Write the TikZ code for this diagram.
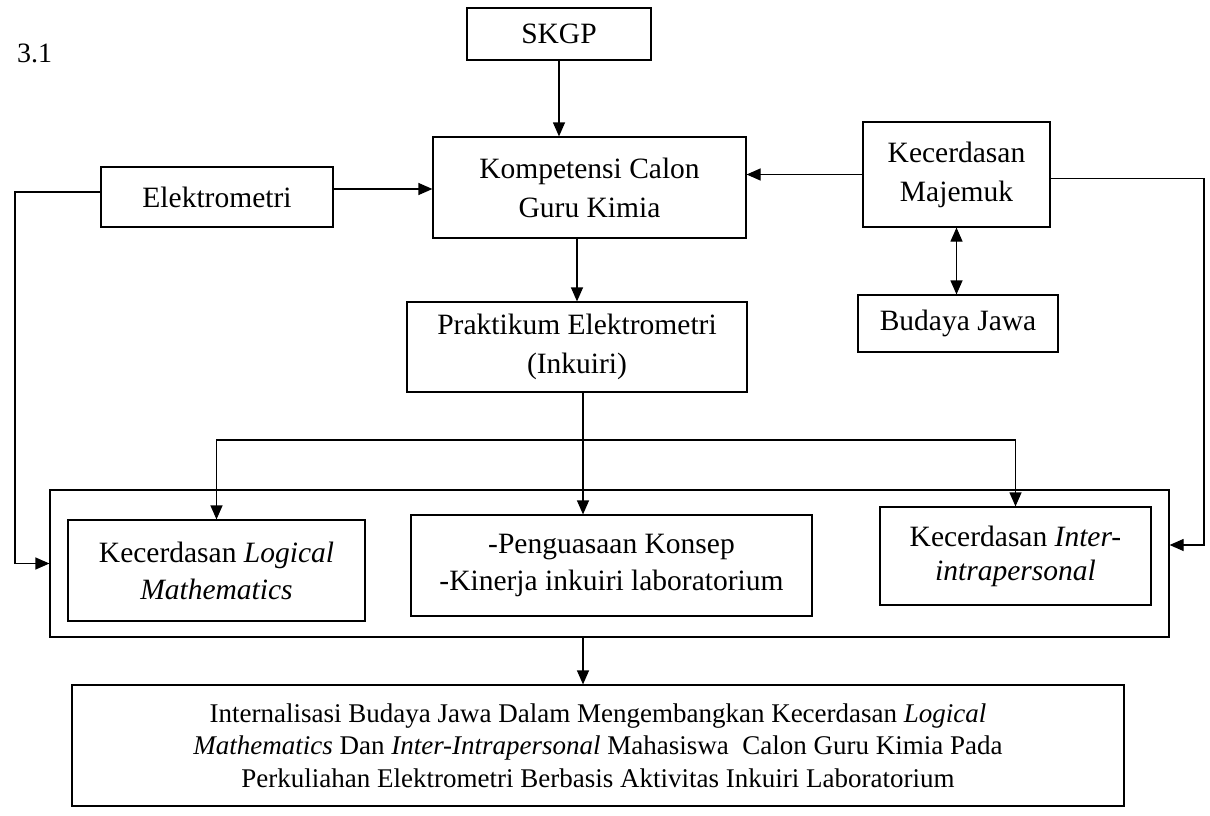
\documentclass[tikz,border=0pt]{standalone}
\usepackage{fontspec}
\setmainfont{Liberation Serif}
\usetikzlibrary{arrows.meta}
\tikzset{
  box/.style={draw, line width=1.2pt, inner sep=0pt, align=center, font=\fontsize{29.5}{39}\selectfont},
  arr/.style={line width=1.2pt, -{Triangle[length=14pt,width=12pt]}},
  darr/.style={line width=1.2pt, {Triangle[length=14pt,width=12pt]}-{Triangle[length=14pt,width=12pt]}},
  ln/.style={line width=1.2pt}
}
\begin{document}
\begin{tikzpicture}[x=1pt,y=-1pt]
\useasboundingbox (0,0) rectangle (1210,816);
% label
\node[anchor=base west, inner sep=0pt, font=\fontsize{28}{34}\selectfont] (num) at (17,63) {3.1};
% top boxes
\node[box, minimum width=184pt, minimum height=52pt] (skgp) at (559,34) {SKGP};
\node[box, minimum width=313pt, minimum height=101pt] (komp) at (589.5,187.5) {Kompetensi Calon\\Guru Kimia};
\node[box, minimum width=232pt, minimum height=60pt] (elek) at (217,197) {Elektrometri};
\node[box, minimum width=187pt, minimum height=105pt] (maj) at (956.5,174.5) {Kecerdasan\\Majemuk};
\node[box, minimum width=200pt, minimum height=57pt] (bud) at (958,323.5) {Budaya Jawa};
\node[box, minimum width=340pt, minimum height=90pt] (prak) at (577,347) {Praktikum Elektrometri\\(Inkuiri)};
% outer group box
\node[box, minimum width=1119pt, minimum height=147pt] (outer) at (609.5,563.5) {};
\node[box, minimum width=297pt, minimum height=101pt, font=\fontsize{29.5}{37}\selectfont] (logi) at (216.5,570.5) {Kecerdasan \textit{Logical}\\\textit{Mathematics}};
\node[box, minimum width=401pt, minimum height=101pt, font=\fontsize{29.5}{37}\selectfont] (peng) at (611.5,565.5) {-Penguasaan Konsep\\-Kinerja inkuiri laboratorium};
\node[box, minimum width=271pt, minimum height=98pt, font=\fontsize{29.5}{34}\selectfont] (inter) at (1015.5,556) {Kecerdasan \textit{Inter-}\\\textit{intrapersonal}};
% bottom box
\node[box, minimum width=1052pt, minimum height=121pt, font=\fontsize{27}{32.5}\selectfont] (res) at (598,745.5) {Internalisasi Budaya Jawa Dalam Mengembangkan Kecerdasan \textit{Logical}\\\textit{Mathematics} Dan \textit{Inter-Intrapersonal} Mahasiswa\ \ Calon Guru Kimia Pada\\Perkuliahan Elektrometri Berbasis Aktivitas Inkuiri Laboratorium};
% helper coordinates
\coordinate (lft) at (15,192);
\coordinate (rgt) at (1204,545);
\coordinate (br) at (583,440);
% connectors
\draw[arr] (skgp.south) -- (skgp.south |- komp.north);
\draw[arr] ([yshift=8pt]elek.east) -- ([yshift=8pt]elek.east -| komp.west);
\draw[arr] (maj.west) -- (maj.west -| komp.east);
\draw[arr] (prak.north |- komp.south) -- (prak.north);
\draw[darr] (maj.south) -- (maj.south |- bud.north);
\draw[arr] ([yshift=5pt]elek.west) -| (lft |- outer.west) -- (outer.west);
\draw[arr] ([yshift=-4pt]maj.east) -| (rgt) -- (rgt -| outer.east);
\draw[ln] (br |- prak.south) -- (br);
\draw[arr] (br) -- (br |- peng.north);
\draw[arr] (br) -| (logi.north);
\draw[arr] (br) -| (inter.north);
\draw[arr] (br |- outer.south) -- (br |- res.north);
\end{tikzpicture}
\end{document}
